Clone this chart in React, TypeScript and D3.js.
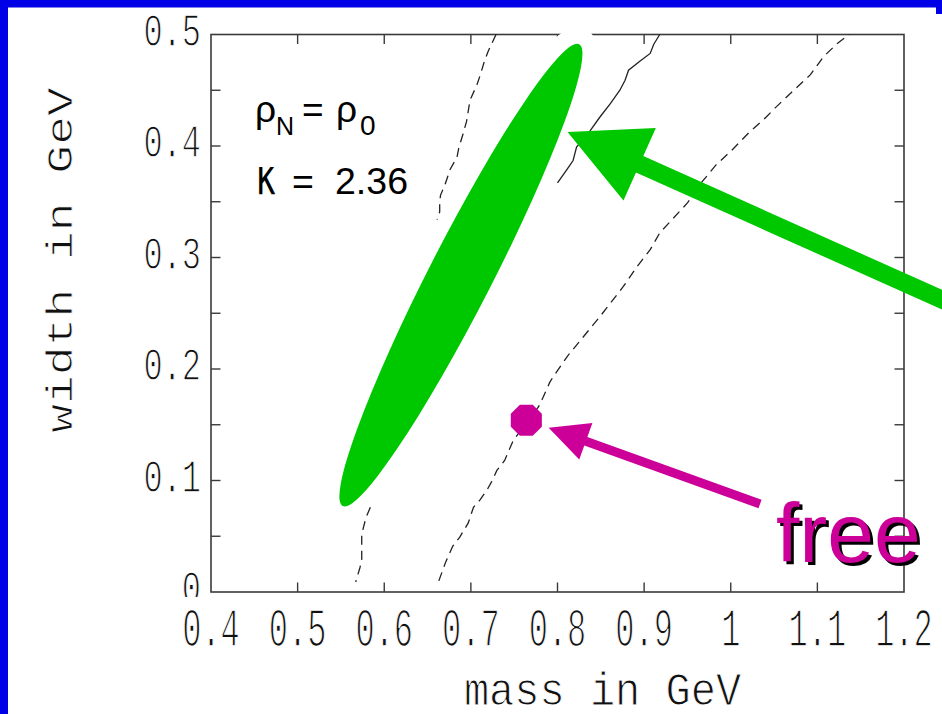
import React from 'react';
import * as d3 from 'd3';

// ---------- data ----------
const massTicks = [0.4, 0.5, 0.6, 0.7, 0.8, 0.9, 1.0, 1.1, 1.2];
const massTickLabels = ['0.4', '0.5', '0.6', '0.7', '0.8', '0.9', '1', '1.1', '1.2'];
const widthTicks = [0, 0.1, 0.2, 0.3, 0.4, 0.5];
const widthTickLabels = ['0', '0.1', '0.2', '0.3', '0.4', '0.5'];
const widthInnerTicks = [0.05, 0.1, 0.15, 0.2, 0.25, 0.3, 0.35, 0.4, 0.45];
const massInnerTicks = [0.5, 0.6, 0.7, 0.8, 0.9, 1.0, 1.1];

// [mass, width] in GeV
const leftDashedUpper: [number, number][] = [
  [0.729, 0.5], [0.72, 0.485], [0.716, 0.477], [0.711, 0.464], [0.707, 0.455], [0.699, 0.441],
  [0.695, 0.422], [0.691, 0.411], [0.686, 0.398], [0.684, 0.39], [0.676, 0.379], [0.67, 0.365],
  [0.665, 0.356], [0.664, 0.35], [0.664, 0.341], [0.661, 0.334],
];
const leftDashedLower: [number, number][] = [
  [0.584, 0.076], [0.579, 0.067], [0.576, 0.058], [0.574, 0.051], [0.574, 0.029], [0.572, 0.022], [0.567, 0.009],
];
const solidCurve: [number, number][] = [
  [0.918, 0.5], [0.911, 0.491], [0.907, 0.483], [0.895, 0.476], [0.882, 0.468], [0.878, 0.459],
  [0.872, 0.45], [0.861, 0.438], [0.849, 0.426], [0.838, 0.414], [0.822, 0.399], [0.818, 0.387],
  [0.811, 0.379], [0.8, 0.367],
];
const rightDashed: [number, number][] = [
  [0.663, 0.01], [0.671, 0.027], [0.679, 0.041], [0.687, 0.049], [0.697, 0.062], [0.703, 0.076],
  [0.711, 0.083], [0.719, 0.092], [0.724, 0.099], [0.73, 0.109], [0.739, 0.118], [0.749, 0.136],
  [0.778, 0.166], [0.783, 0.174], [0.791, 0.188], [0.795, 0.193], [0.812, 0.212], [0.849, 0.247],
  [0.861, 0.259], [0.876, 0.274], [0.892, 0.292], [0.907, 0.307], [0.918, 0.322], [0.95, 0.349],
  [0.967, 0.368], [0.983, 0.383], [1.001, 0.396], [1.021, 0.412], [1.041, 0.426], [1.051, 0.434],
  [1.07, 0.448], [1.092, 0.464], [1.107, 0.48], [1.123, 0.492], [1.137, 0.5],
];
// in-medium region: ends of the long axis, and minor/major ratio
const ellipseTips: [number, number][] = [[0.552, 0.0771], [0.825, 0.4913]];
const ellipseAspect = 0.122;
// free rho
const freePoint: [number, number] = [0.764, 0.154];
// arrows: [tail, tip]
const greenArrow: [number, number][] = [[1.253, 0.259], [0.8116, 0.4126]];
const magentaArrow: [number, number][] = [[1.0338, 0.0789], [0.7898, 0.1472]];

const GREEN = '#00c800';
const MAGENTA = '#cc0099';
const BLUE = '#0000e6';
const AXIS = '#3a3a3a';
const MONO = '"Liberation Mono", "Courier New", monospace';
const SANS = '"Liberation Sans", Arial, Helvetica, sans-serif';

function arrowPath(tail: number[], tip: number[], headLen: number, headHalf: number, shaftHalf: number) {
  const dx = tip[0] - tail[0], dy = tip[1] - tail[1];
  const L = Math.hypot(dx, dy);
  const ux = dx / L, uy = dy / L, nx = -uy, ny = ux;
  const bx = tip[0] - ux * headLen, by = tip[1] - uy * headLen;
  const pts: [number, number][] = [
    [tail[0] + nx * shaftHalf, tail[1] + ny * shaftHalf],
    [bx + nx * shaftHalf, by + ny * shaftHalf],
    [bx + nx * headHalf, by + ny * headHalf],
    [tip[0], tip[1]],
    [bx - nx * headHalf, by - ny * headHalf],
    [bx - nx * shaftHalf, by - ny * shaftHalf],
    [tail[0] - nx * shaftHalf, tail[1] - ny * shaftHalf],
  ];
  return d3.line()(pts) + 'Z';
}

export default function App() {
  const x = d3.scaleLinear().domain([0.4, 1.2]).range([211, 904]);
  const y = d3.scaleLinear().domain([0, 0.5]).range([592, 34.5]);
  const line = d3.line<[number, number]>().x((d) => x(d[0])).y((d) => y(d[1]));

  const [x0, x1] = x.range();
  const [yb, yt] = y.range();

  // ellipse geometry in pixels
  const p0 = [x(ellipseTips[0][0]), y(ellipseTips[0][1])];
  const p1 = [x(ellipseTips[1][0]), y(ellipseTips[1][1])];
  const ecx = (p0[0] + p1[0]) / 2, ecy = (p0[1] + p1[1]) / 2;
  const ea = Math.hypot(p1[0] - p0[0], p1[1] - p0[1]) / 2;
  const eb = ea * ellipseAspect;
  const eang = (Math.atan2(p1[1] - p0[1], p1[0] - p0[0]) * 180) / Math.PI;

  const fx = x(freePoint[0]), fy = y(freePoint[1]);
  const octR = 16.8;
  const octagon = d3.range(8).map((k) => {
    const a = ((22.5 + 45 * k) * Math.PI) / 180;
    return [fx + octR * Math.cos(a), fy + octR * Math.sin(a)] as [number, number];
  });

  const gT = greenArrow.map((d) => [x(d[0]), y(d[1])]);
  const mT = magentaArrow.map((d) => [x(d[0]), y(d[1])]);

  const tickLen = 9.5;
  const thin = { stroke: '#fff', strokeWidth: 0.9 };

  return (
    <svg
      width={942}
      height={714}
      style={{ position: 'absolute', left: 0, top: 0, background: '#fff' }}
    >
      <defs>
        <clipPath id="ylabClip">
          <rect x={0} y={0} width={x0} height={yb + 5} />
        </clipPath>
      </defs>
      <rect x={0} y={0} width={942} height={714} fill="#fff" />

      {/* blue frame */}
      <rect x={0} y={0} width={942} height={7.5} fill={BLUE} />
      <rect x={0} y={0} width={8} height={714} fill={BLUE} />
      <rect x={936} y={0} width={6} height={14} fill={BLUE} />

      {/* plot frame */}
      <rect x={x0} y={yt} width={x1 - x0} height={yb - yt} fill="none" stroke={AXIS} strokeWidth={1.6} />
      {massInnerTicks.map((m) => (
        <g key={'mt' + m} stroke={AXIS} strokeWidth={1.4}>
          <line x1={x(m)} x2={x(m)} y1={yb} y2={yb - tickLen} />
          <line x1={x(m)} x2={x(m)} y1={yt} y2={yt + tickLen} />
        </g>
      ))}
      {widthInnerTicks.map((w) => (
        <g key={'wt' + w} stroke={AXIS} strokeWidth={1.4}>
          <line x1={x0} x2={x0 + tickLen} y1={y(w)} y2={y(w)} />
          <line x1={x1} x2={x1 - tickLen} y1={y(w)} y2={y(w)} />
        </g>
      ))}

      {/* white halo round the in-medium region */}
      <ellipse cx={ecx} cy={ecy} rx={ea} ry={eb} transform={`rotate(${eang} ${ecx} ${ecy})`}
        fill="#fff" stroke="#fff" strokeWidth={32} />

      {/* curves */}
      <path d={line(leftDashedUpper) || ''} fill="none" stroke="#222" strokeWidth={1.3} strokeDasharray="9 6" />
      <path d={line(leftDashedLower) || ''} fill="none" stroke="#222" strokeWidth={1.3} strokeDasharray="9 6" />
      <path d={line(rightDashed) || ''} fill="none" stroke="#222" strokeWidth={1.3} strokeDasharray="9 6" />
      <path d={line(solidCurve) || ''} fill="none" stroke="#222" strokeWidth={1.3} />

      {/* in-medium region */}
      <ellipse cx={ecx} cy={ecy} rx={ea} ry={eb} transform={`rotate(${eang} ${ecx} ${ecy})`} fill={GREEN} />

      {/* free point */}
      <path d={(d3.line()(octagon) || '') + 'Z'} fill={MAGENTA} />

      {/* arrows */}
      <path d={arrowPath(gT[0], gT[1], 79, 39.6, 9)} fill={GREEN} />
      <path d={arrowPath(mT[0], mT[1], 39.5, 19.4, 4.5)} fill={MAGENTA} />

      {/* tick labels */}
      {massTicks.map((m, i) => (
        <text key={'ml' + m} transform={`translate(${x(m)},646) scale(1,1.68)`} textAnchor="middle"
          fontFamily={MONO} fontSize={32} fill="#111" {...thin}>{massTickLabels[i]}</text>
      ))}
      <g clipPath="url(#ylabClip)">
        {widthTicks.map((w, i) => (
          <text key={'wl' + w} transform={`translate(${x0 - 10},${y(w) + 11}) scale(1,1.42)`} textAnchor="end"
            fontFamily={MONO} fontSize={32} fill="#111" {...thin}>{widthTickLabels[i]}</text>
        ))}
      </g>

      {/* axis titles */}
      <text transform="translate(602.5,705) scale(1,1.12)" textAnchor="middle" fontFamily={MONO} fontSize={42} fill="#111" {...thin}>
        mass in GeV
      </text>
      <text transform="translate(72,260) rotate(-90) scale(1.2,0.91)" textAnchor="middle" fontFamily={MONO} fontSize={40} fill="#111" {...thin}>
        width in GeV
      </text>

      {/* annotations */}
      <text fontFamily={SANS} fill="#000">
        <tspan x={255} y={122} fontSize={37}>ρ</tspan>
        <tspan x={276} y={135} fontSize={25}>N</tspan>
        <tspan x={302} y={122} fontSize={37}>=</tspan>
        <tspan x={336} y={122} fontSize={37}>ρ</tspan>
        <tspan x={360} y={135} fontSize={28}>0</tspan>
      </text>
      <text transform="translate(256,194) scale(1,1.45)" fontFamily={'"DejaVu Sans", sans-serif'} fontSize={34} fill="#000">κ</text>
      <text fontFamily={SANS} fill="#000" fontSize={37.5}>
        <tspan x={292} y={194}>=</tspan>
        <tspan x={335} y={194}>2.36</tspan>
      </text>

      {/* free label with shadow */}
      <text x={779} y={565} fontFamily={SANS} fontSize={84} fill="#000">free</text>
      <text x={776} y={562} fontFamily={SANS} fontSize={84} fill={MAGENTA}>free</text>
    </svg>
  );
}
